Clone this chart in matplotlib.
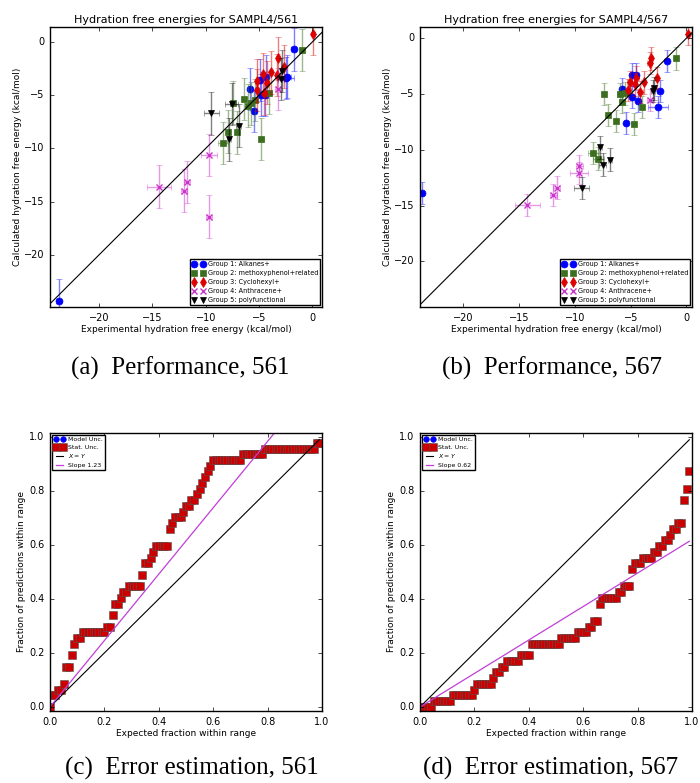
import numpy as np
import matplotlib
matplotlib.use("Agg")
import matplotlib.pyplot as plt

plt.style.use("classic")
plt.rcParams["font.family"] = ["DejaVu Sans"]
plt.rcParams["mathtext.fontset"] = "dejavusans"
plt.rcParams["figure.facecolor"] = "white"
plt.rcParams["savefig.facecolor"] = "white"

# ---- SAMPL4/561 : experimental vs calculated (kcal/mol) ----
a_g1_x = [-23.8, -1.76, -5.85, -4.9, -4.37, -5.44, -4.8, -4.4, -2.5, -2.35]
a_g1_y = [-24.3, -0.69, -4.44, -3.57, -3.26, -6.48, -4.98, -4.98, -3.4, -3.25]
a_g1_xe = [0.2, 0.2, 0.2, 0.2, 0.2, 0.2, 0.2, 0.2, 0.8, 0.3]
a_g2_x = [-0.97, -4.03, -7.42, -6.39, -6.0, -5.8, -5.38, -7.92, -7.1, -8.37, -4.78]
a_g2_y = [-0.75, -4.76, -5.7, -5.35, -5.98, -5.76, -5.45, -8.42, -8.5, -9.51, -9.1]
a_g2_xe = [0.2, 0.2, 0.2, 0.2, 0.2, 0.2, 0.2, 0.2, 0.2, 0.5, 0.2]
a_g3_x = [0.03, -3.24, -2.64, -3.9, -4.65, -5.22, -4.28, -5.22, -4.53, -3.33]
a_g3_y = [0.75, -1.53, -2.32, -2.85, -3.0, -3.63, -3.82, -4.5, -4.82, -3.1]
a_g3_xe = [0.2, 0.2, 0.2, 0.2, 0.2, 0.2, 0.2, 0.2, 0.2, 0.2]
a_g4_x = [-14.4, -12.05, -11.73, -9.69, -9.72, -3.27]
a_g4_y = [-13.6, -13.96, -13.15, -10.64, -16.4, -4.44]
a_g4_xe = [1.1, 0.3, 0.3, 0.75, 0.3, 0.2]
a_g5_x = [-9.5, -7.58, -7.8, -6.92, -2.86, -2.95]
a_g5_y = [-6.7, -5.85, -9.14, -7.86, -2.72, -3.47]
a_g5_xe = [0.7, 0.6, 0.2, 0.2, 0.2, 0.3]
a_yerr = 2.0

# ---- SAMPL4/567 ----
b_g1_x = [-23.7, -1.74, -5.79, -4.9, -4.5, -4.9, -4.35, -5.4, -2.4, -2.59]
b_g1_y = [-13.87, -2.06, -4.57, -3.26, -3.26, -5.26, -5.62, -7.6, -4.72, -6.16]
b_g1_xe = [0.2, 0.2, 0.2, 0.2, 0.2, 0.2, 0.2, 0.2, 0.2, 0.9]
b_g2_x = [-0.93, -7.39, -6.0, -5.47, -5.79, -7.05, -6.33, -4.74, -3.99, -8.35, -7.9]
b_g2_y = [-1.82, -5.02, -5.0, -4.96, -5.71, -6.9, -7.41, -7.71, -6.16, -10.29, -10.79]
b_g2_xe = [0.2, 0.2, 0.2, 0.2, 0.2, 0.2, 0.2, 0.2, 0.2, 0.5, 0.5]
b_g3_x = [0.12, -3.18, -3.3, -2.64, -4.5, -5.1, -4.6, -3.84, -5.2, -4.14]
b_g3_y = [0.36, -1.82, -2.21, -3.56, -3.53, -3.92, -4.15, -3.97, -4.66, -4.81]
b_g3_xe = [0.2, 0.2, 0.2, 0.2, 0.2, 0.2, 0.2, 0.2, 0.2, 0.2]
b_g4_x = [-14.26, -11.95, -11.65, -9.61, -9.61, -3.24]
b_g4_y = [-14.98, -14.08, -13.39, -11.48, -12.08, -5.56]
b_g4_xe = [1.1, 0.3, 0.3, 0.3, 0.8, 0.3]
b_g5_x = [-7.75, -7.5, -6.85, -9.4, -2.94, -3.0]
b_g5_y = [-9.8, -11.33, -10.88, -13.42, -4.51, -4.75]
b_g5_xe = [0.2, 0.3, 0.2, 0.7, 0.2, 0.2]
b_yerr = 1.0

group_labels = ["Group 1: Alkanes+", "Group 2: methoxyphenol+related",
                "Group 3: Cyclohexyl+", "Group 4: Anthracene+",
                "Group 5: polyfunctional"]
group_styles = [("o", "#0000ff"), ("s", "#3b6e1e"), ("d", "#dd0000"),
                ("x", "#cc33cc"), ("v", "#000000")]

# ---- error estimation: number of molecules (of 47) inside expected range ----
n_mol = 47
expected = np.arange(100) / 100.0
counts_561 = [0, 2, 2, 3, 3, 4, 7, 7, 9, 11,
              12, 12, 13, 13, 13, 13, 13, 13, 13, 13,
              13, 14, 14, 16, 18, 18, 19, 20, 20, 21,
              21, 21, 21, 21, 23, 25, 25, 26, 27, 28,
              28, 28, 28, 28, 31, 32, 33, 33, 33, 34,
              35, 35, 36, 36, 37, 38, 39, 40, 41, 42,
              43, 43, 43, 43, 43, 43, 43, 43, 43, 43,
              43, 44, 44, 44, 44, 44, 44, 44, 44, 45,
              45, 45, 45, 45, 45, 45, 45, 45, 45, 45,
              45, 45, 45, 45, 45, 45, 45, 45, 46, 46]
counts_567 = [0, 0, 0, 0, 0, 1, 1, 1, 1, 1,
              1, 1, 2, 2, 2, 2, 2, 2, 2, 2,
              3, 4, 4, 4, 4, 4, 4, 5, 6, 6,
              7, 7, 8, 8, 8, 8, 8, 9, 9, 9,
              9, 11, 11, 11, 11, 11, 11, 11, 11, 11,
              11, 11, 12, 12, 12, 12, 12, 12, 13, 13,
              13, 13, 14, 14, 15, 15, 18, 19, 19, 19,
              19, 19, 19, 20, 20, 21, 21, 21, 24, 25,
              25, 25, 26, 26, 26, 26, 27, 27, 28, 28,
              29, 29, 30, 31, 31, 32, 32, 36, 38, 41]
slope_561 = 1.23
slope_567 = 0.62


def scatter_panel(ax, groups, yerr, title, xlim, ylim):
    for (gx, gy, gxe), lab, (mk, col) in zip(groups, group_labels, group_styles):
        ax.errorbar(gx, gy, xerr=gxe, yerr=yerr, fmt="none", ecolor=col,
                    alpha=0.5, capsize=2, elinewidth=1)
        ax.plot(gx, gy, mk, color=col, markeredgecolor=col, markersize=5,
                markeredgewidth=1 if mk == "x" else 0.5, linestyle="none", label=lab)
    ax.plot([-30, 5], [-30, 5], "k-", linewidth=0.8)
    ax.set_xlim(*xlim)
    ax.set_ylim(*ylim)
    ax.set_xticks([-20, -15, -10, -5, 0])
    ax.set_yticks([-20, -15, -10, -5, 0])
    ax.tick_params(labelsize=7, length=3)
    ax.set_title(title, fontsize=8, pad=3)
    ax.set_xlabel("Experimental hydration free energy (kcal/mol)", fontsize=6.5, labelpad=2)
    ax.set_ylabel("Calculated hydration free energy (kcal/mol)", fontsize=6.5, labelpad=1.5)
    ax.legend(loc="lower right", numpoints=2, fontsize=4.7, borderaxespad=0.3,
              handletextpad=0.4, labelspacing=0.45, borderpad=0.3)


def error_panel(ax, counts, slope):
    ax.plot([], [], "o", color="#0000ff", markeredgecolor="#0000ff",
            markersize=4, label="Model Unc.")
    ax.plot(expected, np.array(counts) / n_mol, "s", color="#cc0000",
            markeredgecolor="#555555", markeredgewidth=0.4, markersize=5.3,
            label="Stat. Unc.")
    ax.plot([0, 0.99], [0, 0.99], "k-", linewidth=0.8, label="$X=Y$")
    ax.plot([0, 0.99], [0, 0.99 * slope], "-", color="#c03fd6", linewidth=0.9,
            label="Slope %.2f" % slope)
    ax.set_xlim(0, 1.0)
    ax.set_ylim(-0.015, 1.015)
    ax.set_xticks([0, 0.2, 0.4, 0.6, 0.8, 1.0])
    ax.set_yticks([0, 0.2, 0.4, 0.6, 0.8, 1.0])
    ax.tick_params(labelsize=7, length=3)
    ax.set_xlabel("Expected fraction within range", fontsize=6.5, labelpad=2)
    ax.set_ylabel("Fraction of predictions within range", fontsize=6.5, labelpad=2)
    ax.legend(loc="upper left", numpoints=2, fontsize=4.5, borderaxespad=0.3,
              handletextpad=0.5, labelspacing=0.4, borderpad=0.3, handlelength=1.8)


fig = plt.figure(figsize=(7.0, 7.83), dpi=100)
ax_a = fig.add_axes([0.0714, 0.6079, 0.3886, 0.3576])
ax_b = fig.add_axes([0.6, 0.6079, 0.3886, 0.3576])
ax_c = fig.add_axes([0.0714, 0.092, 0.3886, 0.355])
ax_d = fig.add_axes([0.6, 0.092, 0.3886, 0.355])

groups_a = [(a_g1_x, a_g1_y, a_g1_xe), (a_g2_x, a_g2_y, a_g2_xe), (a_g3_x, a_g3_y, a_g3_xe),
            (a_g4_x, a_g4_y, a_g4_xe), (a_g5_x, a_g5_y, a_g5_xe)]
groups_b = [(b_g1_x, b_g1_y, b_g1_xe), (b_g2_x, b_g2_y, b_g2_xe), (b_g3_x, b_g3_y, b_g3_xe),
            (b_g4_x, b_g4_y, b_g4_xe), (b_g5_x, b_g5_y, b_g5_xe)]

scatter_panel(ax_a, groups_a, a_yerr, "Hydration free energies for SAMPL4/561",
              (-24.6, 0.9), (-24.9, 1.4))
scatter_panel(ax_b, groups_b, b_yerr, "Hydration free energies for SAMPL4/567",
              (-23.9, 0.5), (-24.1, 1.0))
error_panel(ax_c, counts_561, slope_561)
error_panel(ax_d, counts_567, slope_567)

captions = [("(a)  Performance, 561", 0.257, 0.521),
            ("(b)  Performance, 567", 0.788, 0.521),
            ("(c)  Error estimation, 561", 0.274, 0.0102),
            ("(d)  Error estimation, 567", 0.787, 0.0102)]
for txt, cx, cy in captions:
    fig.text(cx, cy, txt, ha="center", va="baseline", fontsize=18,
             family="Liberation Serif")

fig.savefig("out.png", dpi=100)
